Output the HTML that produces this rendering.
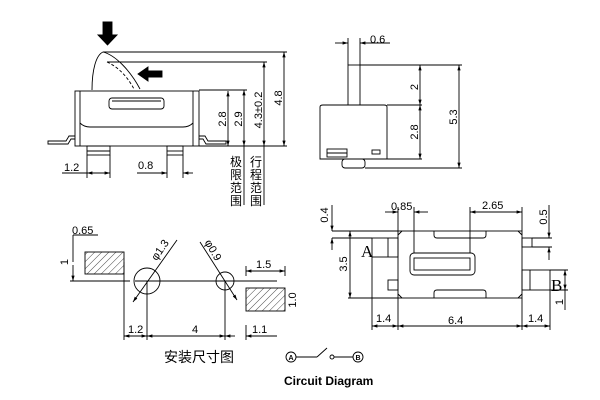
<!DOCTYPE html>
<html><head><meta charset="utf-8"><style>
html,body{margin:0;padding:0;background:#fff}
svg{display:block}
text{font-family:"Liberation Sans","Noto Sans CJK SC",sans-serif;fill:#000;font-size:11px}
.cjk{font-family:"Noto Sans CJK SC",sans-serif;font-size:12px}
</style></head><body>
<svg width="600" height="400" viewBox="0 0 600 400" xmlns="http://www.w3.org/2000/svg">
<defs>
<pattern id="h" width="5" height="5" patternUnits="userSpaceOnUse" patternTransform="rotate(45)">
<line x1="0" y1="0" x2="0" y2="5" stroke="#000" stroke-width="0.7"/></pattern>
<marker id="a" viewBox="0 0 10 10" refX="10" refY="5" markerWidth="6" markerHeight="6" orient="auto-start-reverse"><path d="M0,2 L10,5 L0,8z" fill="#000"/></marker>
</defs>
<g stroke="#000" stroke-width="0.9" fill="none">
<!-- top-left side view -->
<path d="M103,22h9v13h5l-9.5,10l-9.5,-10h5z" fill="#000"/>
<path d="M138,74l10,-7v4h14v6h-14v4z" fill="#000"/>
<path d="M92,90 C92,70 96,55 103,52 C115,55 130,70 140,89"/>
<path d="M107,62 C120,68 128,78 134,89" stroke-dasharray="3,2"/>
<rect x="75" y="91" width="124" height="55"/>
<line x1="80" y1="91" x2="80" y2="146"/><line x1="193" y1="91" x2="193" y2="146"/>
<path d="M80,123 Q84,127 90,127 H183 Q189,127 193,123"/>
<rect x="109" y="98" width="55" height="11" rx="3"/>
<line x1="112" y1="101" x2="161" y2="101"/>
<path d="M75,136h-6l-3,5h-18v3h20l3,-5h4"/>
<path d="M199,136h6l3,5h18v3h-20l-3,-5h-4"/>
<rect x="87" y="146" width="23" height="9"/><line x1="87" y1="151" x2="110" y2="151"/>
<rect x="167" y="146" width="16" height="9"/><line x1="167" y1="151" x2="183" y2="151"/>
<line x1="103" y1="52" x2="287" y2="52"/>
<line x1="107" y1="62" x2="267" y2="62"/>
<line x1="199" y1="90" x2="247" y2="90"/>
<line x1="199" y1="146" x2="287" y2="146"/>
<line x1="228" y1="91" x2="228" y2="146" marker-start="url(#a)" marker-end="url(#a)"/>
<line x1="244" y1="90" x2="244" y2="146" marker-start="url(#a)" marker-end="url(#a)"/>
<line x1="244" y1="146" x2="244" y2="205"/>
<line x1="264" y1="62" x2="264" y2="146" marker-start="url(#a)" marker-end="url(#a)"/>
<line x1="264" y1="146" x2="264" y2="205"/>
<line x1="284" y1="52" x2="284" y2="146" marker-start="url(#a)" marker-end="url(#a)"/>
<line x1="87" y1="155" x2="87" y2="178"/><line x1="110" y1="155" x2="110" y2="178"/>
<line x1="167" y1="155" x2="167" y2="178"/><line x1="183" y1="155" x2="183" y2="178"/>
<line x1="62" y1="173" x2="87" y2="173"/><line x1="87" y1="173" x2="110" y2="173" marker-start="url(#a)" marker-end="url(#a)"/>
<line x1="137" y1="173" x2="167" y2="173" marker-end="url(#a)"/><line x1="193" y1="173" x2="183" y2="173" marker-end="url(#a)"/>
<!-- top-right end view -->
<rect x="348" y="65" width="12" height="40"/>
<path d="M320,107 Q320,105 323,105 H384 Q387,105 387,107 V159 H320z"/>
<rect x="342" y="159" width="23" height="9" rx="3"/>
<rect x="327" y="149" width="20" height="8"/><line x1="327" y1="153" x2="347" y2="153"/>
<rect x="372" y="150" width="8" height="4"/>
<line x1="348" y1="38" x2="348" y2="65"/><line x1="360" y1="38" x2="360" y2="65"/>
<line x1="335" y1="43" x2="348" y2="43" marker-end="url(#a)"/><line x1="390" y1="43" x2="360" y2="43" marker-end="url(#a)"/>
<line x1="360" y1="65" x2="462" y2="65"/>
<line x1="387" y1="105" x2="422" y2="105"/>
<line x1="387" y1="159" x2="422" y2="159"/>
<line x1="365" y1="168" x2="462" y2="168"/>
<line x1="420" y1="65" x2="420" y2="105" marker-start="url(#a)" marker-end="url(#a)"/>
<line x1="420" y1="105" x2="420" y2="159" marker-start="url(#a)" marker-end="url(#a)"/>
<line x1="459" y1="65" x2="459" y2="168" marker-start="url(#a)" marker-end="url(#a)"/>
<!-- bottom-left footprint -->
<rect x="85" y="252" width="39" height="22" fill="url(#h)"/>
<rect x="246" y="288" width="39" height="23" fill="url(#h)"/>
<line x1="70" y1="281" x2="130" y2="281"/><line x1="135" y1="281" x2="277" y2="281"/>
<circle cx="147" cy="281" r="13"/><circle cx="225" cy="281" r="9"/>
<line x1="73" y1="235" x2="73" y2="262"/><line x1="73" y1="265" x2="73" y2="281" marker-end="url(#a)"/>
<line x1="73" y1="235" x2="98" y2="235"/>
<line x1="133" y1="302" x2="177" y2="240" marker-start="url(#a)"/>
<line x1="200" y1="242" x2="237" y2="300" marker-end="url(#a)"/>
<line x1="124" y1="262" x2="124" y2="340"/><line x1="147" y1="281" x2="147" y2="340"/>
<line x1="225" y1="281" x2="225" y2="340"/><line x1="246" y1="325" x2="246" y2="340"/>
<line x1="124" y1="336" x2="147" y2="336" marker-start="url(#a)" marker-end="url(#a)"/>
<line x1="147" y1="336" x2="225" y2="336" marker-start="url(#a)" marker-end="url(#a)"/>
<line x1="225" y1="336" x2="235" y2="336" marker-start="url(#a)"/>
<line x1="246" y1="336" x2="277" y2="336" marker-start="url(#a)"/>
<line x1="246" y1="266" x2="246" y2="276"/><line x1="285" y1="266" x2="285" y2="276"/>
<line x1="246" y1="271" x2="285" y2="271" marker-start="url(#a)" marker-end="url(#a)"/>
<!-- circuit -->
<circle cx="291" cy="357" r="5"/><line x1="296" y1="357" x2="317" y2="357"/>
<line x1="317" y1="357" x2="327" y2="348"/><circle cx="332" cy="357" r="2"/>
<line x1="334" y1="357" x2="353" y2="357"/><circle cx="358" cy="357" r="5"/>
<!-- bottom-right top view -->
<rect x="398" y="231" width="124" height="67"/>
<path d="M398,235l4,-4M518,231l4,4M398,294l4,4M518,298l4,-4"/>
<rect x="410" y="253" width="65" height="22" rx="4"/>
<rect x="414" y="258" width="56" height="12"/>
<path d="M434,231v4q0,3 3,3h46q3,0 3,-3v-4"/>
<path d="M434,298v-5q0,-3 3,-3h46q3,0 3,3v5"/>
<rect x="372" y="238" width="26" height="19"/><line x1="388" y1="238" x2="388" y2="257"/>
<rect x="388" y="280" width="10" height="10"/>
<rect x="522" y="238" width="10" height="9"/>
<rect x="522" y="270" width="28" height="20"/><line x1="530" y1="270" x2="530" y2="290"/>
<line x1="332" y1="231" x2="398" y2="231"/><line x1="332" y1="238" x2="372" y2="238"/>
<line x1="332" y1="205" x2="332" y2="231" marker-end="url(#a)"/><line x1="332" y1="250" x2="332" y2="238" marker-end="url(#a)"/>
<line x1="348" y1="298" x2="398" y2="298"/>
<line x1="350" y1="231" x2="350" y2="298" marker-start="url(#a)" marker-end="url(#a)"/>
<line x1="372" y1="257" x2="372" y2="330"/><line x1="398" y1="298" x2="398" y2="330"/>
<line x1="522" y1="298" x2="522" y2="330"/><line x1="550" y1="290" x2="550" y2="330"/>
<line x1="372" y1="326" x2="398" y2="326" marker-start="url(#a)" marker-end="url(#a)"/>
<line x1="398" y1="326" x2="522" y2="326" marker-start="url(#a)" marker-end="url(#a)"/>
<line x1="522" y1="326" x2="550" y2="326" marker-start="url(#a)" marker-end="url(#a)"/>
<line x1="398" y1="207" x2="398" y2="231"/><line x1="414" y1="207" x2="414" y2="253"/>
<line x1="385" y1="212" x2="398" y2="212" marker-end="url(#a)"/><line x1="428" y1="212" x2="414" y2="212" marker-end="url(#a)"/>
<line x1="470" y1="207" x2="470" y2="253"/><line x1="522" y1="207" x2="522" y2="231"/>
<line x1="470" y1="212" x2="522" y2="212" marker-start="url(#a)" marker-end="url(#a)"/>
<line x1="532" y1="238" x2="552" y2="238"/><line x1="532" y1="247" x2="552" y2="247"/>
<line x1="549" y1="205" x2="549" y2="238" marker-end="url(#a)"/><line x1="549" y1="260" x2="549" y2="247" marker-end="url(#a)"/>
<line x1="550" y1="270" x2="568" y2="270"/><line x1="550" y1="290" x2="568" y2="290"/>
<line x1="565" y1="270" x2="565" y2="290" marker-start="url(#a)" marker-end="url(#a)"/>
<line x1="565" y1="290" x2="565" y2="310"/>
</g>
<!-- labels -->
<text x="64" y="171">1.2</text>
<text x="138" y="169">0.8</text>
<text transform="translate(226,119) rotate(-90)" text-anchor="middle">2.8</text>
<text transform="translate(242,119) rotate(-90)" text-anchor="middle">2.9</text>
<text transform="translate(262,110) rotate(-90)" text-anchor="middle">4.3±0.2</text>
<text transform="translate(282,98) rotate(-90)" text-anchor="middle">4.8</text>
<text class="cjk" x="230" y="166">极</text><text class="cjk" x="230" y="179">限</text><text class="cjk" x="230" y="192">范</text><text class="cjk" x="230" y="205">围</text>
<text class="cjk" x="250" y="166">行</text><text class="cjk" x="250" y="179">程</text><text class="cjk" x="250" y="192">范</text><text class="cjk" x="250" y="205">围</text>
<text x="370" y="43">0.6</text>
<text transform="translate(418,87) rotate(-90)" text-anchor="middle">2</text>
<text transform="translate(418,132) rotate(-90)" text-anchor="middle">2.8</text>
<text transform="translate(457,117) rotate(-90)" text-anchor="middle">5.3</text>
<text x="72" y="234">0.65</text>
<text transform="translate(68,262) rotate(-90)" text-anchor="middle">1</text>
<text transform="translate(163,252) rotate(-55)" text-anchor="middle">φ1.3</text>
<text transform="translate(210,252) rotate(60)" text-anchor="middle">φ0.9</text>
<text x="128" y="333">1.2</text>
<text x="192" y="333">4</text>
<text x="252" y="333">1.1</text>
<text x="256" y="268">1.5</text>
<text transform="translate(296,300) rotate(-90)" text-anchor="middle">1.0</text>
<text class="cjk" x="164" y="362" style="font-size:14px">安装尺寸图</text>
<text x="291" y="360" text-anchor="middle" style="font-size:7px;font-weight:bold">A</text>
<text x="358" y="360" text-anchor="middle" style="font-size:7px;font-weight:bold">B</text>
<text x="284" y="385" style="font-size:12px;font-weight:bold">Circuit Diagram</text>
<text transform="translate(328,215) rotate(-90)" text-anchor="middle">0.4</text>
<text transform="translate(347,264) rotate(-90)" text-anchor="middle">3.5</text>
<text x="391" y="210">0.85</text>
<text x="482" y="209">2.65</text>
<text transform="translate(547,217) rotate(-90)" text-anchor="middle">0.5</text>
<text transform="translate(563,302) rotate(-90)" text-anchor="middle">1</text>
<text x="361" y="257" style="font-family:'Liberation Serif',serif;font-size:17px">A</text>
<text x="551" y="291" style="font-family:'Liberation Serif',serif;font-size:17px">B</text>
<text x="376" y="322">1.4</text>
<text x="448" y="324">6.4</text>
<text x="528" y="322">1.4</text>
</svg>
</body></html>
